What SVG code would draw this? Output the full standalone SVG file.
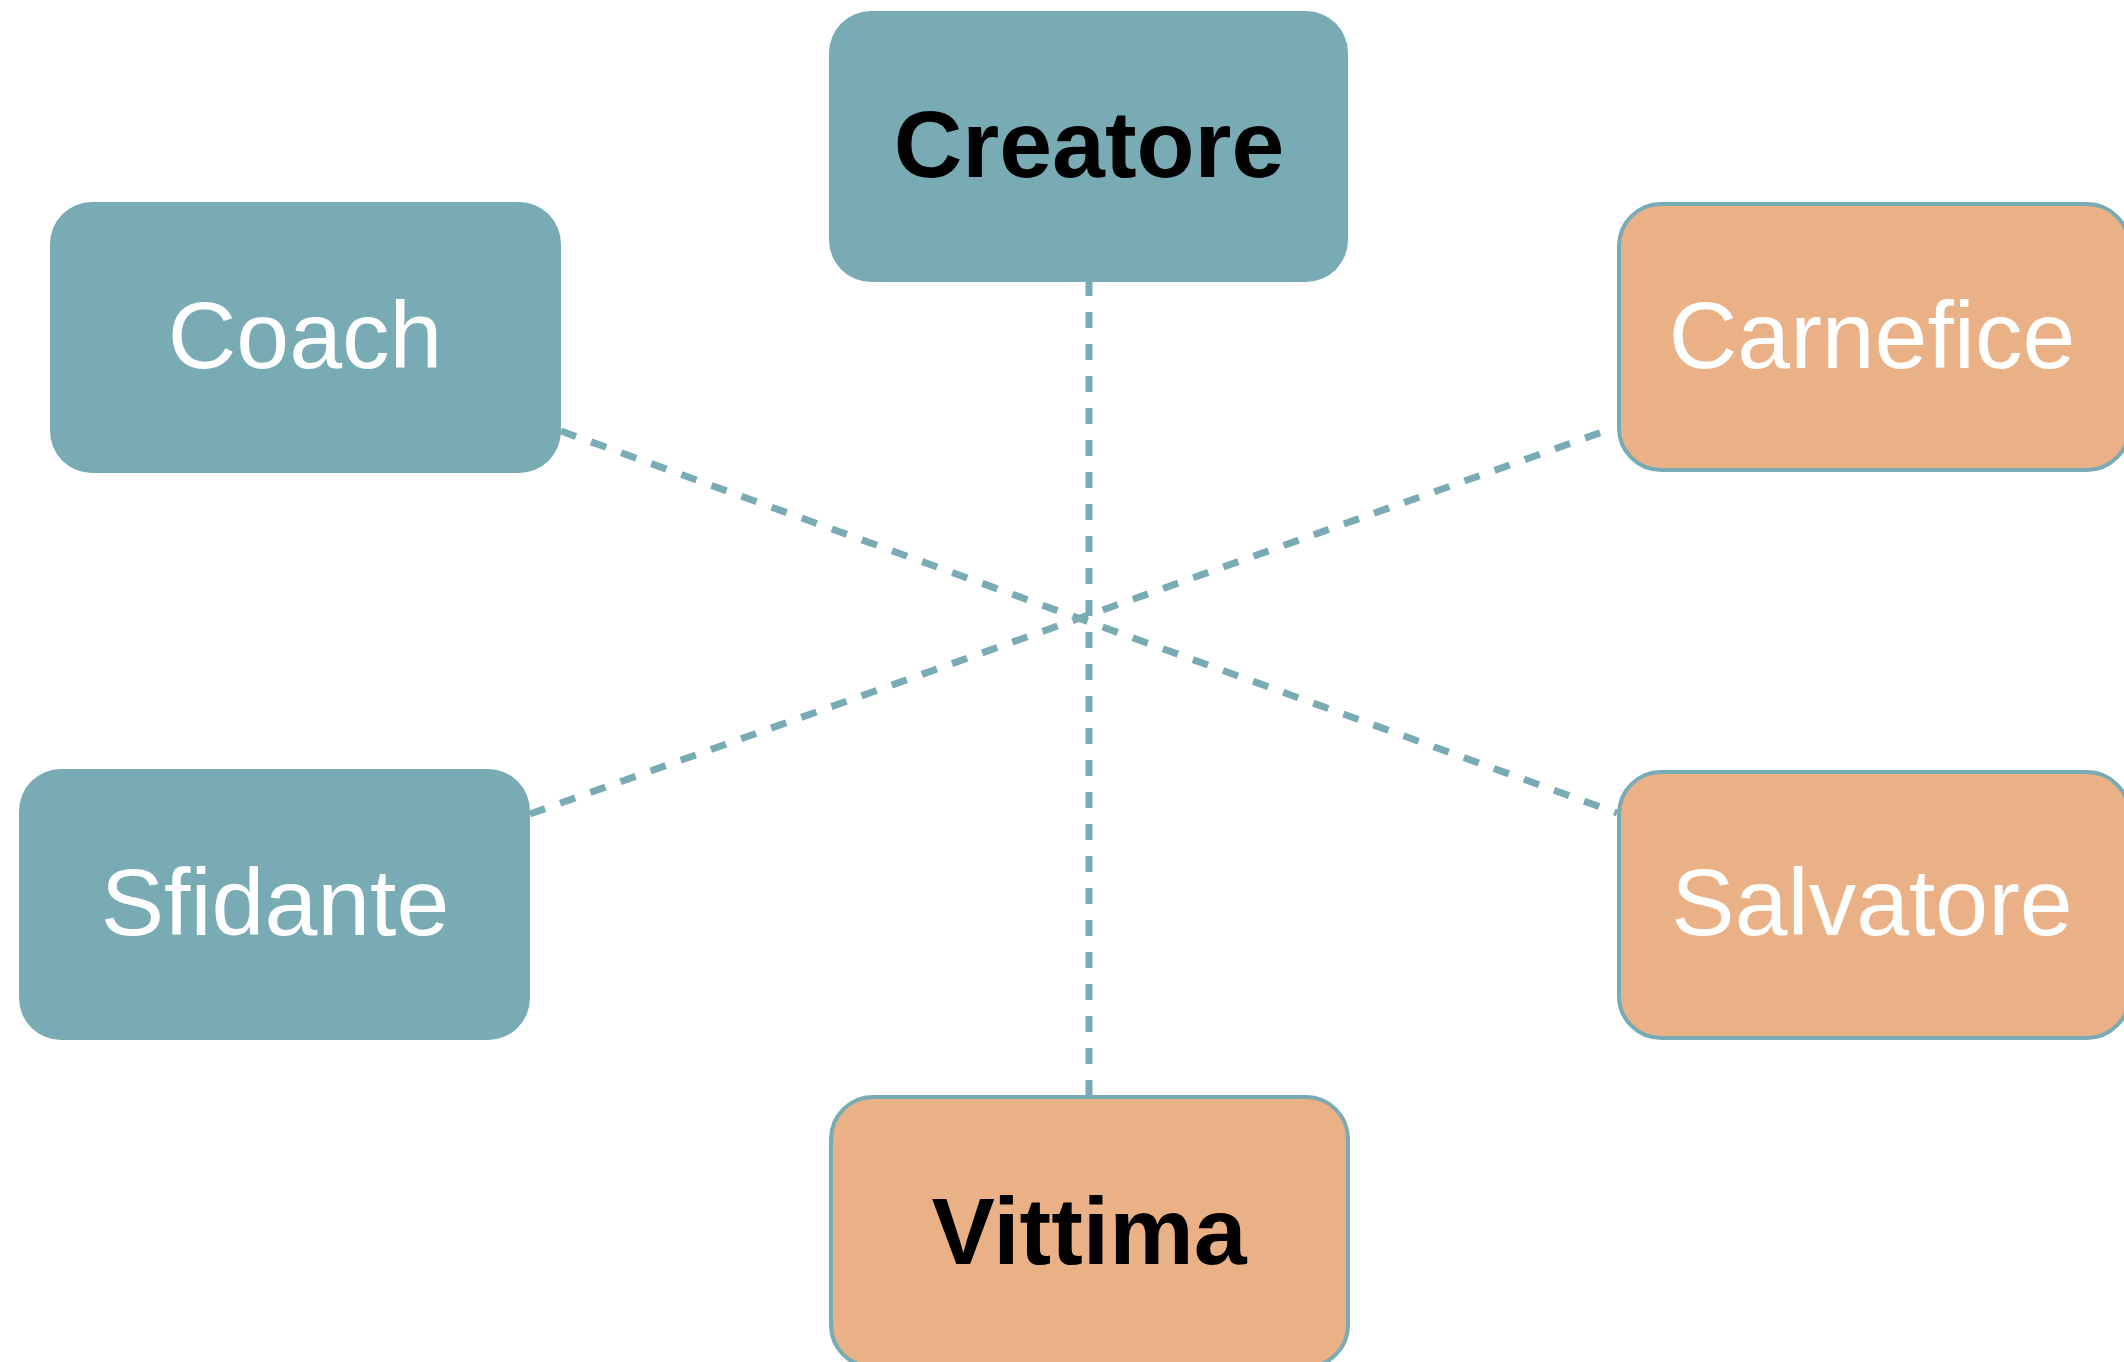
<svg xmlns="http://www.w3.org/2000/svg" width="2124" height="1362" viewBox="0 0 2124 1362">
<style>
.teal{fill:#79ABB4;}
.orange{fill:#EAB187;stroke:#79ABB4;stroke-width:4;}
.lbl{font-family:"Liberation Sans",Arial,sans-serif;font-size:95px;text-anchor:middle;}
.w{fill:#FFFFFF;}
.b{fill:#000000;font-weight:bold;}
.conn{stroke:#79ABB4;stroke-width:7;stroke-dasharray:16 16;fill:none;}
</style>
<rect width="2124" height="1362" fill="#FFFFFF"/>
<g id="connectors">
<line class="conn" x1="1089" y1="280" x2="1089" y2="1096"/>
<line class="conn" x1="561" y1="431" x2="1617" y2="813"/>
<line class="conn" x1="530" y1="814" x2="1605" y2="431"/>
</g>
<g id="creatore">
<rect class="teal" x="829" y="11" width="519" height="271" rx="42"/>
<text class="lbl b" x="1089" y="177">Creatore</text>
</g>
<g id="coach">
<rect class="teal" x="50" y="202" width="511" height="271" rx="42"/>
<text class="lbl w" x="305" y="368">Coach</text>
</g>
<g id="carnefice">
<rect class="orange" x="1619" y="204" width="510" height="266" rx="42"/>
<text class="lbl w" x="1872" y="368">Carnefice</text>
</g>
<g id="sfidante">
<rect class="teal" x="19" y="769" width="511" height="271" rx="42"/>
<text class="lbl w" x="275" y="935">Sfidante</text>
</g>
<g id="salvatore">
<rect class="orange" x="1619" y="772" width="510" height="266" rx="42"/>
<text class="lbl w" x="1872" y="935">Salvatore</text>
</g>
<g id="vittima">
<rect class="orange" x="831" y="1097" width="517" height="270" rx="42"/>
<text class="lbl b" x="1089" y="1264">Vittima</text>
</g>
</svg>
